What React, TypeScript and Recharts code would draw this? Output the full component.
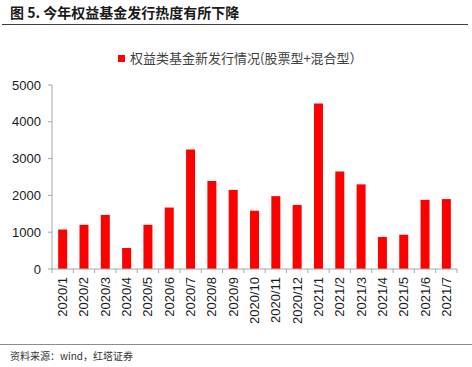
import { BarChart, Bar, XAxis, YAxis } from 'recharts'

const months = [
  '2020/1', '2020/2', '2020/3', '2020/4', '2020/5', '2020/6', '2020/7', '2020/8', '2020/9', '2020/10',
  '2020/11', '2020/12', '2021/1', '2021/2', '2021/3', '2021/4', '2021/5', '2021/6', '2021/7',
]
const issuance = [1070, 1200, 1470, 570, 1200, 1670, 3250, 2390, 2150, 1580, 1980, 1740, 4500, 2650, 2300, 870, 930, 1880, 1900]
const yTicks = [0, 1000, 2000, 3000, 4000, 5000]
const seriesName = '权益类基金新发行情况(股票型+混合型）'

const data = months.map((m, i) => ({ month: m, value: issuance[i] }))

const W = 472
const H = 367
const LEFT = 52
const RIGHT = 15
const STEP = (W - LEFT - RIGHT) / months.length

const MonthTick = (props: any) => {
  const { x, y, payload, index } = props
  const left = x - STEP / 2
  return (
    <g>
      <line x1={left} y1={y - 8} x2={left} y2={y - 4} stroke="#a6a6a6" />
      {index === months.length - 1 && (
        <line x1={left + STEP} y1={y - 8} x2={left + STEP} y2={y - 4} stroke="#a6a6a6" />
      )}
      <text
        x={0}
        y={0}
        transform={`translate(${x + 4.5},${y}) rotate(-90)`}
        textAnchor="end"
        fill="#1a1a1a"
        fontSize={13}
        fontFamily="Liberation Sans, Arial, sans-serif"
      >
        {payload.value}
      </text>
    </g>
  )
}

export default function App() {
  return (
    <div style={{ position: 'absolute', left: 0, top: 0, width: W, height: H, background: '#fff', overflow: 'hidden' }}>
      <div
        style={{
          position: 'absolute', left: 10, top: 3, fontSize: 14, fontWeight: 'bold', color: '#1a1a1a',
          fontFamily: '"Noto Sans CJK SC", sans-serif', lineHeight: '18px',
        }}
      >
        图 5. 今年权益基金发行热度有所下降
      </div>
      <div style={{ position: 'absolute', left: 2, top: 24, width: 466, height: 1, background: '#404040' }} />
      <div
        style={{
          position: 'absolute', left: 118, top: 49, display: 'flex', alignItems: 'center',
          fontSize: 13, color: '#404040', fontFamily: '"Noto Sans CJK SC", sans-serif', lineHeight: '18px',
        }}
      >
        <span style={{ display: 'inline-block', width: 7, height: 7, background: '#ff0000', marginRight: 5 }} />
        {seriesName}
      </div>
      <div style={{ position: 'absolute', left: 0, top: 344, width: W, height: 1, background: '#8c8c8c' }} />
      <div
        style={{
          position: 'absolute', left: 10, top: 349, fontSize: 10, color: '#333',
          fontFamily: '"Noto Sans CJK SC", sans-serif', lineHeight: '14px',
        }}
      >
        资料来源：wind，红塔证券
      </div>
      <BarChart
        width={W}
        height={H}
        data={data}
        margin={{ top: 85, right: RIGHT, bottom: 0, left: 0 }}
        barCategoryGap="29%"
        style={{ position: 'absolute', left: 0, top: 0 }}
      >
        <XAxis
          dataKey="month"
          interval={0}
          height={H - 269}
          tickLine={false}
          axisLine={{ stroke: '#a6a6a6' }}
          tick={<MonthTick />}
        />
        <YAxis
          domain={[0, 5000]}
          ticks={yTicks}
          width={LEFT}
          tickSize={4}
          tickMargin={7}
          tickLine={{ stroke: '#a6a6a6' }}
          axisLine={{ stroke: '#a6a6a6' }}
          tick={{ fill: '#1a1a1a', fontSize: 13, fontFamily: 'Liberation Sans, Arial, sans-serif' }}
        />
        <Bar dataKey="value" name={seriesName} fill="#ff0000" isAnimationActive={false} />
      </BarChart>
    </div>
  )
}
